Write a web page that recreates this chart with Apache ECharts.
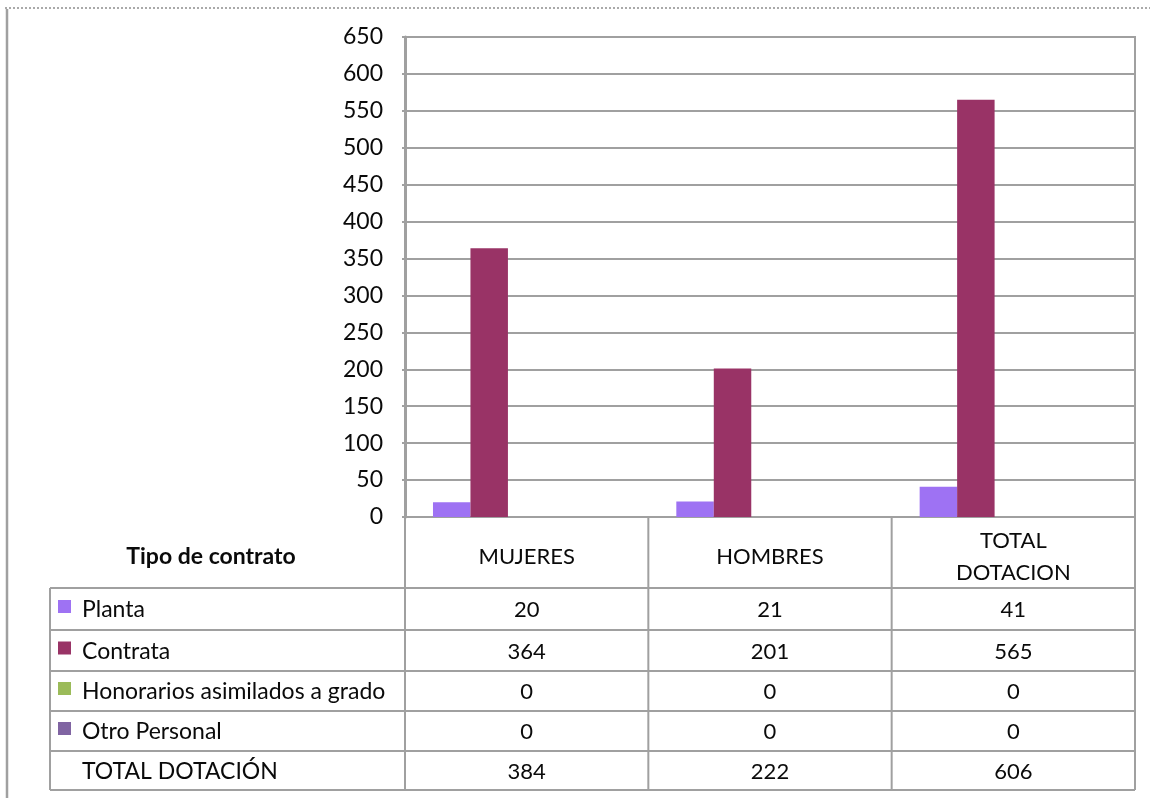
<!DOCTYPE html>
<html><head><meta charset="utf-8">
<script src="https://cdn.jsdelivr.net/npm/echarts@6/dist/echarts.min.js"></script>
<style>html,body{margin:0;padding:0;background:#fff}#c{width:1150px;height:798px}</style>
</head><body><div id="c"></div>
<script>
// ---- data ----
const categories = ['MUJERES', 'HOMBRES', 'TOTAL\nDOTACION'];
const planta = [20, 21, 41];
const contrata = [364, 201, 565];
const honorarios = [0, 0, 0];
const otroPersonal = [0, 0, 0];
const totalDotacion = [384, 222, 606];
const seriesNames = ['Planta', 'Contrata', 'Honorarios asimilados a grado', 'Otro Personal'];
const totalName = 'TOTAL DOTACIÓN';
const tableTitle = 'Tipo de contrato';
const yMin = 0, yMax = 650, yStep = 50;

// ---- style ----
const FONT = 'Lato';
const colors = ['#9E72F3', '#993366', '#9BBB59', '#8064A2'];
const LINE = '#a0a0a0';
const TXT = '#0a0a0a';

const chart = echarts.init(document.getElementById('c'), null, {renderer: 'canvas'});
const seriesData = [planta, contrata, honorarios, otroPersonal];

const series = seriesData.map((d, i) => ({
  name: seriesNames[i], type: 'bar', data: d, barGap: '0%', barCategoryGap: '23%',
  itemStyle: {color: colors[i]}, silent: true
}));
// the table's total row occupies a (not drawn) slot in each group
series.push({name: totalName, type: 'bar', data: [], barGap: '0%', barCategoryGap: '23%', silent: true});

chart.setOption({
  animation: false,
  backgroundColor: '#fff',
  grid: {left: 405, right: 15, top: 37, bottom: 281, show: true, borderColor: LINE, borderWidth: 2},
  xAxis: {type: 'category', data: categories, axisLabel: {show: false}, axisTick: {show: false},
    axisLine: {show: true, lineStyle: {color: LINE, width: 2}}, splitLine: {show: false}},
  yAxis: {type: 'value', min: yMin, max: yMax, interval: yStep,
    axisLine: {show: true, lineStyle: {color: LINE, width: 3}},
    axisTick: {show: true, length: 3, lineStyle: {color: LINE, width: 2}},
    axisLabel: {fontFamily: FONT, fontSize: 23, color: TXT, margin: 22},
    splitLine: {lineStyle: {color: LINE, width: 2}}},
  series: series
});

// ---- data table below the plot ----
const c0 = chart.convertToPixel({xAxisIndex: 0}, 0);
const c1 = chart.convertToPixel({xAxisIndex: 0}, 1);
const band = c1 - c0;
const centers = categories.map((_, i) => chart.convertToPixel({xAxisIndex: 0}, i));
const plotLeft = centers[0] - band / 2;
const plotRight = centers[centers.length - 1] + band / 2;
const plotBottom = chart.convertToPixel({yAxisIndex: 0}, 0);
const tableLeft = 50;
const rowLines = [588, 630, 671, 711, 751, 790];
const tableBottom = rowLines[rowLines.length - 1];

const g = [];
const line = (x1, y1, x2, y2, w) => g.push({type: 'line', shape: {x1, y1, x2, y2}, style: {stroke: LINE, lineWidth: w || 2}, silent: true});
const text = (x, y, t, opts) => g.push({type: 'text', x, y, silent: true, style: Object.assign({
  text: t, fontFamily: FONT, fontSize: 23, fill: TXT, align: 'center', verticalAlign: 'middle'}, opts || {})});

// frame
g.push({type: 'line', shape: {x1: 5, y1: 8, x2: 1150, y2: 8}, style: {stroke: '#aaa', lineWidth: 2, lineDash: [2, 2]}, silent: true});
line(7, 9, 7, 798, 2.5);

// column boundaries
for (let i = 0; i <= categories.length; i++) {
  const x = plotLeft + band * i;
  line(x, plotBottom, x, tableBottom);
}
line(tableLeft, rowLines[0], tableLeft, tableBottom);
rowLines.forEach(y => line(tableLeft, y, plotRight, y));

// header
const headY = 557;
text(211, headY, tableTitle, {fontWeight: 'bold'});
categories.forEach((cat, i) => text(centers[i], headY, cat, {fontSize: 22, lineHeight: 32}));

// rows
const rows = seriesData.concat([totalDotacion]);
const rowNames = seriesNames.concat([totalName]);
rows.forEach((vals, r) => {
  const y = (rowLines[r] + rowLines[r + 1]) / 2;
  if (r < seriesNames.length) {
    g.push({type: 'rect', shape: {x: 58, y: y - 9, width: 13, height: 13}, style: {fill: colors[r]}, silent: true});
  }
  text(82, y + 1, rowNames[r], {align: 'left'});
  vals.forEach((v, i) => text(centers[i], y + 1, String(v), {fontSize: 22}));
});

chart.setOption({graphic: {elements: g}});
</script>
</body></html>
